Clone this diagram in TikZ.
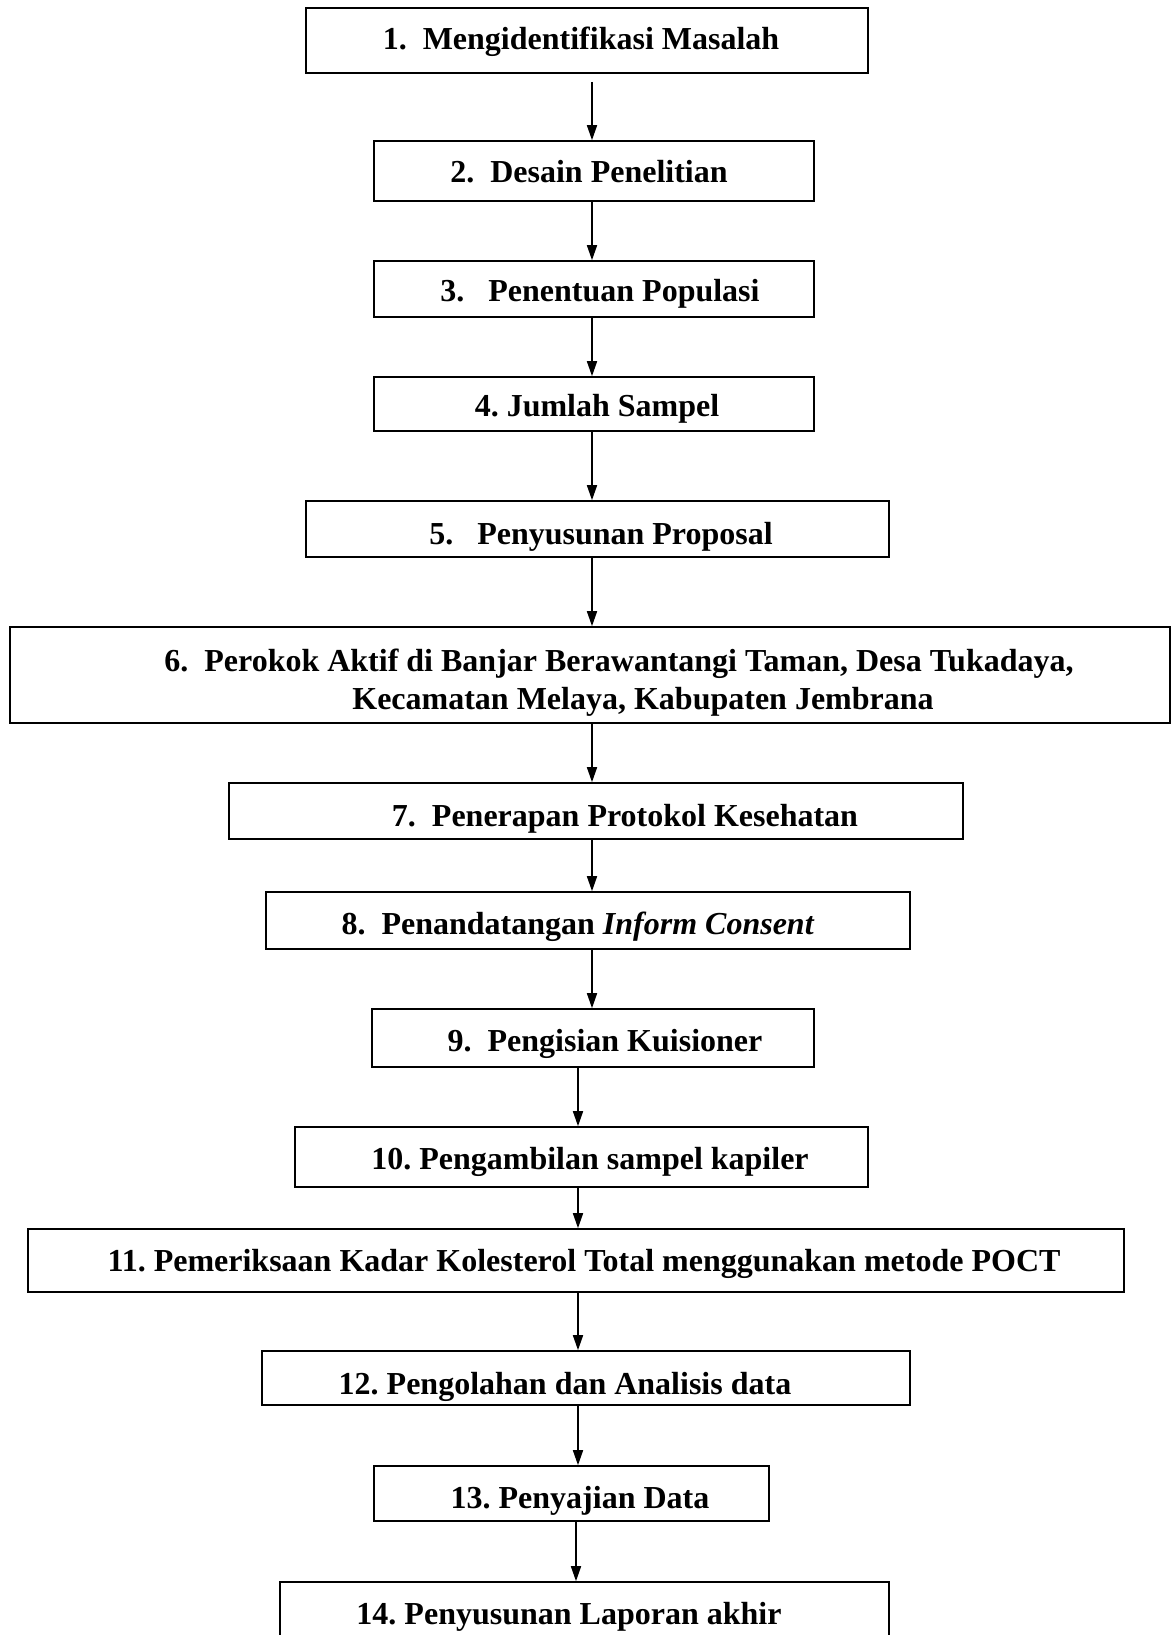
\documentclass[tikz,border=0pt]{standalone}
\usepackage{fontspec}
\setmainfont{Liberation Serif}
\usetikzlibrary{arrows.meta}
\frenchspacing
\begin{document}
\begin{tikzpicture}[x=1pt,y=-1pt,
  box/.style={draw,line width=1.6pt,rectangle,inner sep=0pt},
  txt/.style={anchor=base,inner sep=0pt,font=\fontsize{32}{38}\selectfont\bfseries},
  arr/.style={line width=1.6pt,-{Triangle[length=15pt,width=10pt]}}]
\useasboundingbox (0,0) rectangle (1173,1635);
\fill[white] (0,0) rectangle (1173,1635);
% boxes
\node[box,minimum width=562,minimum height=65] (b1) at (587,40.5) {};
\node[box,minimum width=440,minimum height=60] (b2) at (594,171) {};
\node[box,minimum width=440,minimum height=56] (b3) at (594,289) {};
\node[box,minimum width=440,minimum height=54] (b4) at (594,404) {};
\node[box,minimum width=583,minimum height=56] (b5) at (597.5,529) {};
\node[box,minimum width=1160,minimum height=96] (b6) at (590,675) {};
\node[box,minimum width=734,minimum height=56] (b7) at (596,811) {};
\node[box,minimum width=644,minimum height=57] (b8) at (588,920.5) {};
\node[box,minimum width=442,minimum height=58] (b9) at (593,1038) {};
\node[box,minimum width=573,minimum height=60] (b10) at (581.5,1157) {};
\node[box,minimum width=1096,minimum height=63] (b11) at (576,1260.5) {};
\node[box,minimum width=648,minimum height=54] (b12) at (586,1378) {};
\node[box,minimum width=395,minimum height=55] (b13) at (571.5,1493.5) {};
\node[box,minimum width=609,minimum height=66] (b14) at (584.5,1615) {};
% texts
\node[txt] (t1) at (581,50) {1.\ \ Mengidentifikasi Masalah};
\node[txt] (t2) at (589,182) {2.\ \ Desain Penelitian};
\node[txt] (t3) at (600,301) {3.\ \ \ Penentuan Populasi};
\node[txt] (t4) at (597,416) {4. Jumlah Sampel};
\node[txt] (t5) at (601,544) {5.\ \ \ Penyusunan Proposal};
\node[txt] (t6a) at (619,671) {6.\ \ Perokok Aktif di Banjar Berawantangi Taman, Desa Tukadaya,};
\node[txt] (t6b) at (643,709) {Kecamatan Melaya, Kabupaten Jembrana};
\node[txt] (t7) at (625,826) {7.\ \ Penerapan Protokol Kesehatan};
\node[txt] (t8) at (578,934) {8.\ \ Penandatangan \textit{Inform Consent}};
\node[txt] (t9) at (605,1051) {9.\ \ Pengisian Kuisioner};
\node[txt] (t10) at (590,1169) {10. Pengambilan sampel kapiler};
\node[txt] (t11) at (584,1271) {11. Pemeriksaan Kadar Kolesterol Total menggunakan metode POCT};
\node[txt] (t12) at (565,1394) {12. Pengolahan dan Analisis data};
\node[txt] (t13) at (580,1508) {13. Penyajian Data};
\node[txt] (t14) at (569,1624) {14. Penyusunan Laporan akhir};
% arrow columns
\coordinate (xa) at (592,0);
\coordinate (xb) at (578,0);
\coordinate (xc) at (576,0);
\draw[arr] ([yshift=-8pt]b1.south -| xa) -- (b2.north -| xa);
\draw[arr] (b2.south -| xa) -- (b3.north -| xa);
\draw[arr] (b3.south -| xa) -- (b4.north -| xa);
\draw[arr] (b4.south -| xa) -- (b5.north -| xa);
\draw[arr] (b5.south -| xa) -- (b6.north -| xa);
\draw[arr] (b6.south -| xa) -- (b7.north -| xa);
\draw[arr] (b7.south -| xa) -- (b8.north -| xa);
\draw[arr] (b8.south -| xa) -- (b9.north -| xa);
\draw[arr] (b9.south -| xb) -- (b10.north -| xb);
\draw[arr] (b10.south -| xb) -- (b11.north -| xb);
\draw[arr] (b11.south -| xb) -- (b12.north -| xb);
\draw[arr] (b12.south -| xb) -- (b13.north -| xb);
\draw[arr] (b13.south -| xc) -- (b14.north -| xc);
\end{tikzpicture}
\end{document}
